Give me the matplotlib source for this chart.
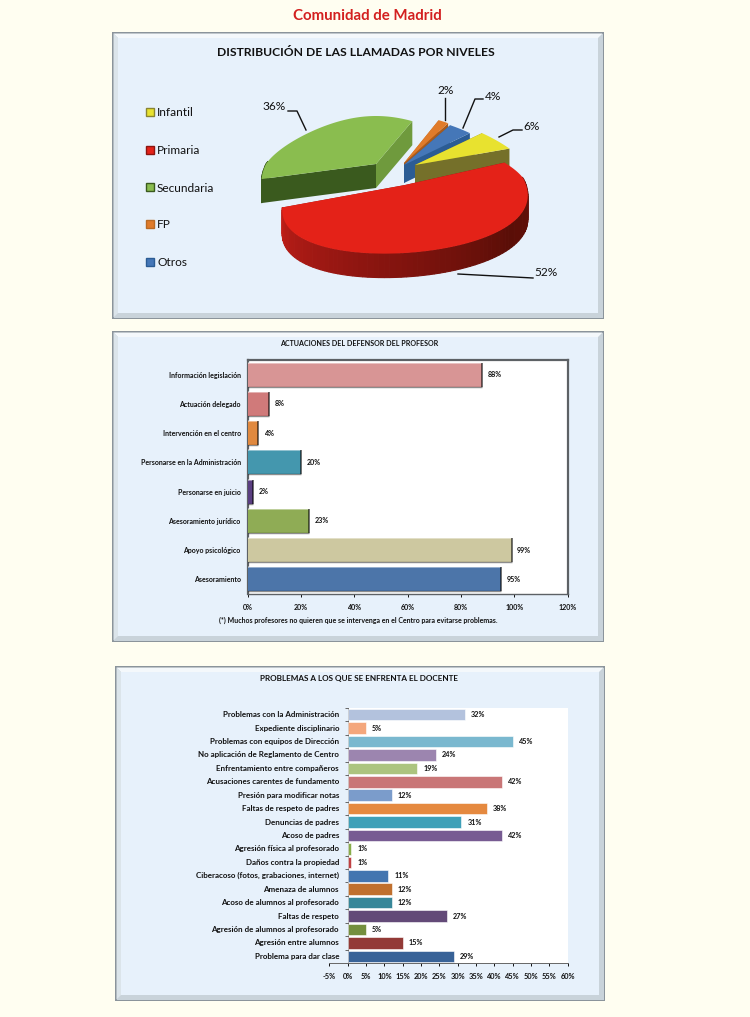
import numpy as np
import matplotlib; matplotlib.use("Agg")
import matplotlib.pyplot as plt
from matplotlib.colors import LinearSegmentedColormap
from matplotlib.patches import Polygon, Rectangle

plt.rcParams["font.family"] = ["Lato", "DejaVu Sans"]

W, H = 750, 1017
BG, FACE, INK = "#fffef1", "#e7f1fb", "#111111"

pie_names = ["Infantil", "Primaria", "Secundaria", "FP", "Otros"]
pie_vals = [6, 52, 36, 2, 4]
pie_cols = ["#e8e22f", "#e42218", "#8abd4f", "#e07b2a", "#4577b8"]
face_in = ["#8a8530", "#8c1510", "#3a5a1e", "#b96a24", "#2b5c94"]   # first cut face, also the rim
face_out = ["#75702a", "#8c1510", "#6f9a3d", "#a85a1c", "#2b5c94"]  # last cut face

act_labels = ["Información legislación", "Actuación delegado", "Intervención en el centro",
              "Personarse en la Administración", "Personarse en juicio",
              "Asesoramiento jurídico", "Apoyo psicológico", "Asesoramiento"]
act_vals = [88, 8, 4, 20, 2, 23, 99, 95]
act_cols = ["#d89595", "#d07a7a", "#e0893f", "#4497ae", "#5b3f82", "#8fac55", "#cdc8a0", "#4c75a9"]

prob_labels = ["Problemas con la Administración", "Expediente disciplinario",
               "Problemas con equipos de Dirección", "No aplicación de Reglamento de Centro",
               "Enfrentamiento entre compañeros", "Acusaciones carentes de fundamento",
               "Presión para modificar notas", "Faltas de respeto de padres",
               "Denuncias de padres", "Acoso de padres", "Agresión física al profesorado",
               "Daños contra la propiedad", "Ciberacoso (fotos, grabaciones, internet)",
               "Amenaza de alumnos", "Acoso de alumnos al profesorado", "Faltas de respeto",
               "Agresión de alumnos al profesorado", "Agresión entre alumnos",
               "Problema para dar clase"]
prob_vals = [32, 5, 45, 24, 19, 42, 12, 38, 31, 42, 1, 1, 11, 12, 12, 27, 5, 15, 29]
prob_cols = ["#b3c2dd", "#f4a77c", "#7ab8cf", "#9c85af", "#acc47f", "#c97677", "#7b9ccb",
             "#e5893f", "#3ea0b8", "#775b92", "#88ac4a", "#bf4043", "#4375b0", "#c0702e",
             "#378799", "#634a78", "#748f3e", "#933a37", "#386297"]

# per slice placement of the exploded pie, in page pixels: apex x, apex y, rx, shear
PLACE = [(415, 165, 112, 0), (405, 185, 118, -0.06), (376, 164, 110, 0),
         (404, 163, 105, 0), (404, 165, 110, 0)]
BACK, FRONT, PERSP = 48, 68, 0.3
DEPTHS = [18, 24, 24, 18, 18]


def panel(bg, x0, y0, x1, y1):
    bg.add_patch(Rectangle((x0, y0), x1 - x0, y1 - y0, fc="#8b949b", ec="none"))
    bg.add_patch(Rectangle((x0 + 1.5, y0 + 1.5), x1 - x0 - 3, y1 - y0 - 3, fc="#c9d3da", ec="none"))
    b = 6
    bg.add_patch(Polygon([(x0 + 1.5, y0 + 1.5), (x1 - 1.5, y0 + 1.5), (x1 - b, y0 + b), (x0 + b, y0 + b)],
                         fc="#f4f8fb", ec="none"))
    bg.add_patch(Polygon([(x0 + 1.5, y0 + 1.5), (x0 + b, y0 + b), (x0 + b, y1 - b), (x0 + 1.5, y1 - 1.5)],
                         fc="#dbe4ea", ec="none"))
    bg.add_patch(Rectangle((x0 + b, y0 + b), x1 - x0 - 2 * b, y1 - y0 - 2 * b, fc=FACE, ec="none"))


def rim_point(th, cx, cy, rx, sh):
    c, s = np.cos(th), np.sin(th)
    x = rx * c * (1 - PERSP * s)
    y = -(BACK if s > 0 else FRONT) * s
    return cx + x, cy + y + sh * x


def draw_pie(bg):
    shade = LinearSegmentedColormap.from_list("red", ["#6e120b", "#5a0e07", "#8c1510", "#c01e18"])
    a = 41.6
    slices = []
    for v in pie_vals:
        slices.append((a, a - v * 3.6))
        a -= v * 3.6
    for rank, i in enumerate([2, 3, 4, 0, 1]):
        cx, cy, rx, sh = PLACE[i]
        d = DEPTHS[i]
        z = 3 + rank * 0.1
        t = np.radians(np.linspace(slices[i][0], slices[i][1], 90))
        pts = np.array([rim_point(q, cx, cy, rx, sh) for q in t])
        for p, col in [(pts[0], face_in[i]), (pts[-1], face_out[i])]:
            bg.add_patch(Polygon([(cx, cy), p, (p[0], p[1] + d), (cx, cy + d)],
                                 fc=col, ec="none", zorder=z))
        for k in range(len(pts) - 1):
            if np.sin(t[k]) > 0.05:  # back of the rim stays hidden
                continue
            p, q = pts[k], pts[k + 1]
            col = shade(k / 88) if i == 1 else face_in[i]
            bg.add_patch(Polygon([p, q, (q[0], q[1] + d), (p[0], p[1] + d)],
                                 fc=col, ec=col, lw=0.8, zorder=z))
        bg.add_patch(Polygon(np.vstack([[cx, cy], pts]), fc=pie_cols[i], ec="none", zorder=z + 0.05))


def text(bg, x, y, s, size, **kw):
    kw.setdefault("ha", "center")
    bg.text(x, y, s, fontsize=size, va="center", color=INK, zorder=6, **kw)


def bevel(ax, vals, h):
    for i, v in enumerate(vals):
        top, bot = i - h / 2, i + h / 2
        ax.plot([0, v], [top, top], color="white", alpha=0.55, lw=1.1, solid_capstyle="butt", zorder=4)
        ax.plot([0, v], [bot, bot], color="black", alpha=0.45, lw=1.0, solid_capstyle="butt", zorder=4)
        ax.plot([v, v], [top, bot], color="black", alpha=0.6, lw=1.3, solid_capstyle="butt", zorder=4)


def axes_px(fig, x0, y0, x1, y1):
    return fig.add_axes([x0 / W, 1 - y1 / H, (x1 - x0) / W, (y1 - y0) / H])


def main():
    fig = plt.figure(figsize=(W / 100, H / 100), dpi=100, facecolor=BG)
    bg = fig.add_axes([0, 0, 1, 1])
    bg.set_xlim(0, W); bg.set_ylim(H, 0); bg.axis("off")

    bg.text(367.5, 15.5, "Comunidad de Madrid", fontsize=10.8, color="#d3201f", ha="center", va="center",
            fontweight="bold")
    panel(bg, 112, 32, 604, 319)
    panel(bg, 112, 331, 604, 642)
    panel(bg, 115, 666, 605, 1001)

    # pie panel
    text(bg, 356, 53, "DISTRIBUCIÓN DE LAS LLAMADAS POR NIVELES", 8.7, fontweight="bold")
    draw_pie(bg)
    for name, col, yy, dk in zip(pie_names, pie_cols, [112, 150, 187, 224, 262], face_in):
        bg.add_patch(Rectangle((146, yy - 4.5), 8, 8, fc=col, ec=dk, lw=1))
        text(bg, 157, yy + 1, name, 8.6, ha="left")
    for s, x, y in zip(["6%", "52%", "36%", "2%", "4%"], [532, 546, 274, 446, 493], [126, 273, 107, 90, 96]):
        text(bg, x, y, s, 8.6)
    for xs, ys in [([445, 445], [98, 120]), ([483, 475, 463], [99, 99, 128]),
                   ([522, 513, 499], [130, 130, 137]), ([288, 297, 306], [111, 111, 130]),
                   ([533, 458], [278, 274])]:
        bg.plot(xs, ys, color="#111111", lw=1, zorder=5)

    # actuaciones
    text(bg, 359, 343, "ACTUACIONES DEL DEFENSOR DEL PROFESOR", 5.1, fontweight="bold")
    ax = axes_px(fig, 247.7, 360, 567.7, 594)
    ax.set_facecolor("white")
    ax.barh(range(len(act_vals)), act_vals, height=0.82, color=act_cols, zorder=3)
    bevel(ax, act_vals, 0.82)
    ax.set_xlim(0, 120); ax.set_ylim(len(act_vals) - 0.5, -0.5)
    ax.set_xticks(range(0, 121, 20), [f"{v}%" for v in range(0, 121, 20)])
    ax.set_yticks(range(len(act_vals)), act_labels)
    ax.tick_params(axis="x", labelsize=5.1, length=2.5, width=0.7, pad=5, colors=INK)
    ax.tick_params(axis="y", labelsize=5, length=0, pad=5, colors=INK)
    for lab in ax.get_xticklabels() + ax.get_yticklabels():
        lab.set_fontweight("bold")
    for v, i in zip(act_vals, range(len(act_vals))):
        ax.text(v + 2, i, f"{v}%", fontsize=5.1, va="center", color=INK, fontweight="bold")
    for sp in ax.spines.values():
        sp.set_color("#5d6165"); sp.set_linewidth(1.6)
    ax.spines["bottom"].set_linewidth(1)
    text(bg, 358, 620, "(*) Muchos profesores no quieren que se intervenga en el Centro para evitarse problemas.",
         5.0, fontweight="bold")

    # problemas
    text(bg, 359, 678, "PROBLEMAS A LOS QUE SE ENFRENTA EL DOCENTE", 5.9, fontweight="bold")
    ax = axes_px(fig, 329.3, 708, 567.7, 963)
    ax.patch.set_visible(False)
    ax.axvspan(0, 60, color="white", lw=0, zorder=0)
    ax.barh(range(len(prob_vals)), prob_vals, height=0.86, color=prob_cols, zorder=3,
            edgecolor="white", linewidth=0.4)
    ax.set_xlim(-5, 60); ax.set_ylim(len(prob_vals) - 0.5, -0.5)
    ax.set_xticks(range(-5, 61, 5), [f"{v}%" for v in range(-5, 61, 5)])
    ax.set_yticks(np.arange(-0.5, len(prob_vals)), minor=False)
    ax.set_yticklabels([])
    ax.tick_params(axis="x", labelsize=5.3, length=2.5, width=0.7, pad=5, colors=INK)
    ax.tick_params(axis="y", length=2, width=0.7, color="#666666")
    for lab in ax.get_xticklabels():
        lab.set_fontweight("bold")
    for sp in ["top", "right"]:
        ax.spines[sp].set_visible(False)
    ax.spines["left"].set_position(("data", 0))
    ax.spines["left"].set_color("#666666"); ax.spines["bottom"].set_color("#666666")
    ax.spines["left"].set_linewidth(0.7); ax.spines["bottom"].set_linewidth(0.7)
    for i, (lab, v) in enumerate(zip(prob_labels, prob_vals)):
        ax.text(-2.35, i, lab, fontsize=5.75, va="center", ha="right", color=INK, fontweight="bold")
        ax.text(v + 1.7, i, f"{v}%", fontsize=5.2, va="center", color=INK, fontweight="bold")

    fig.savefig("out.png", dpi=100, facecolor=BG)


if __name__ == "__main__":
    main()
